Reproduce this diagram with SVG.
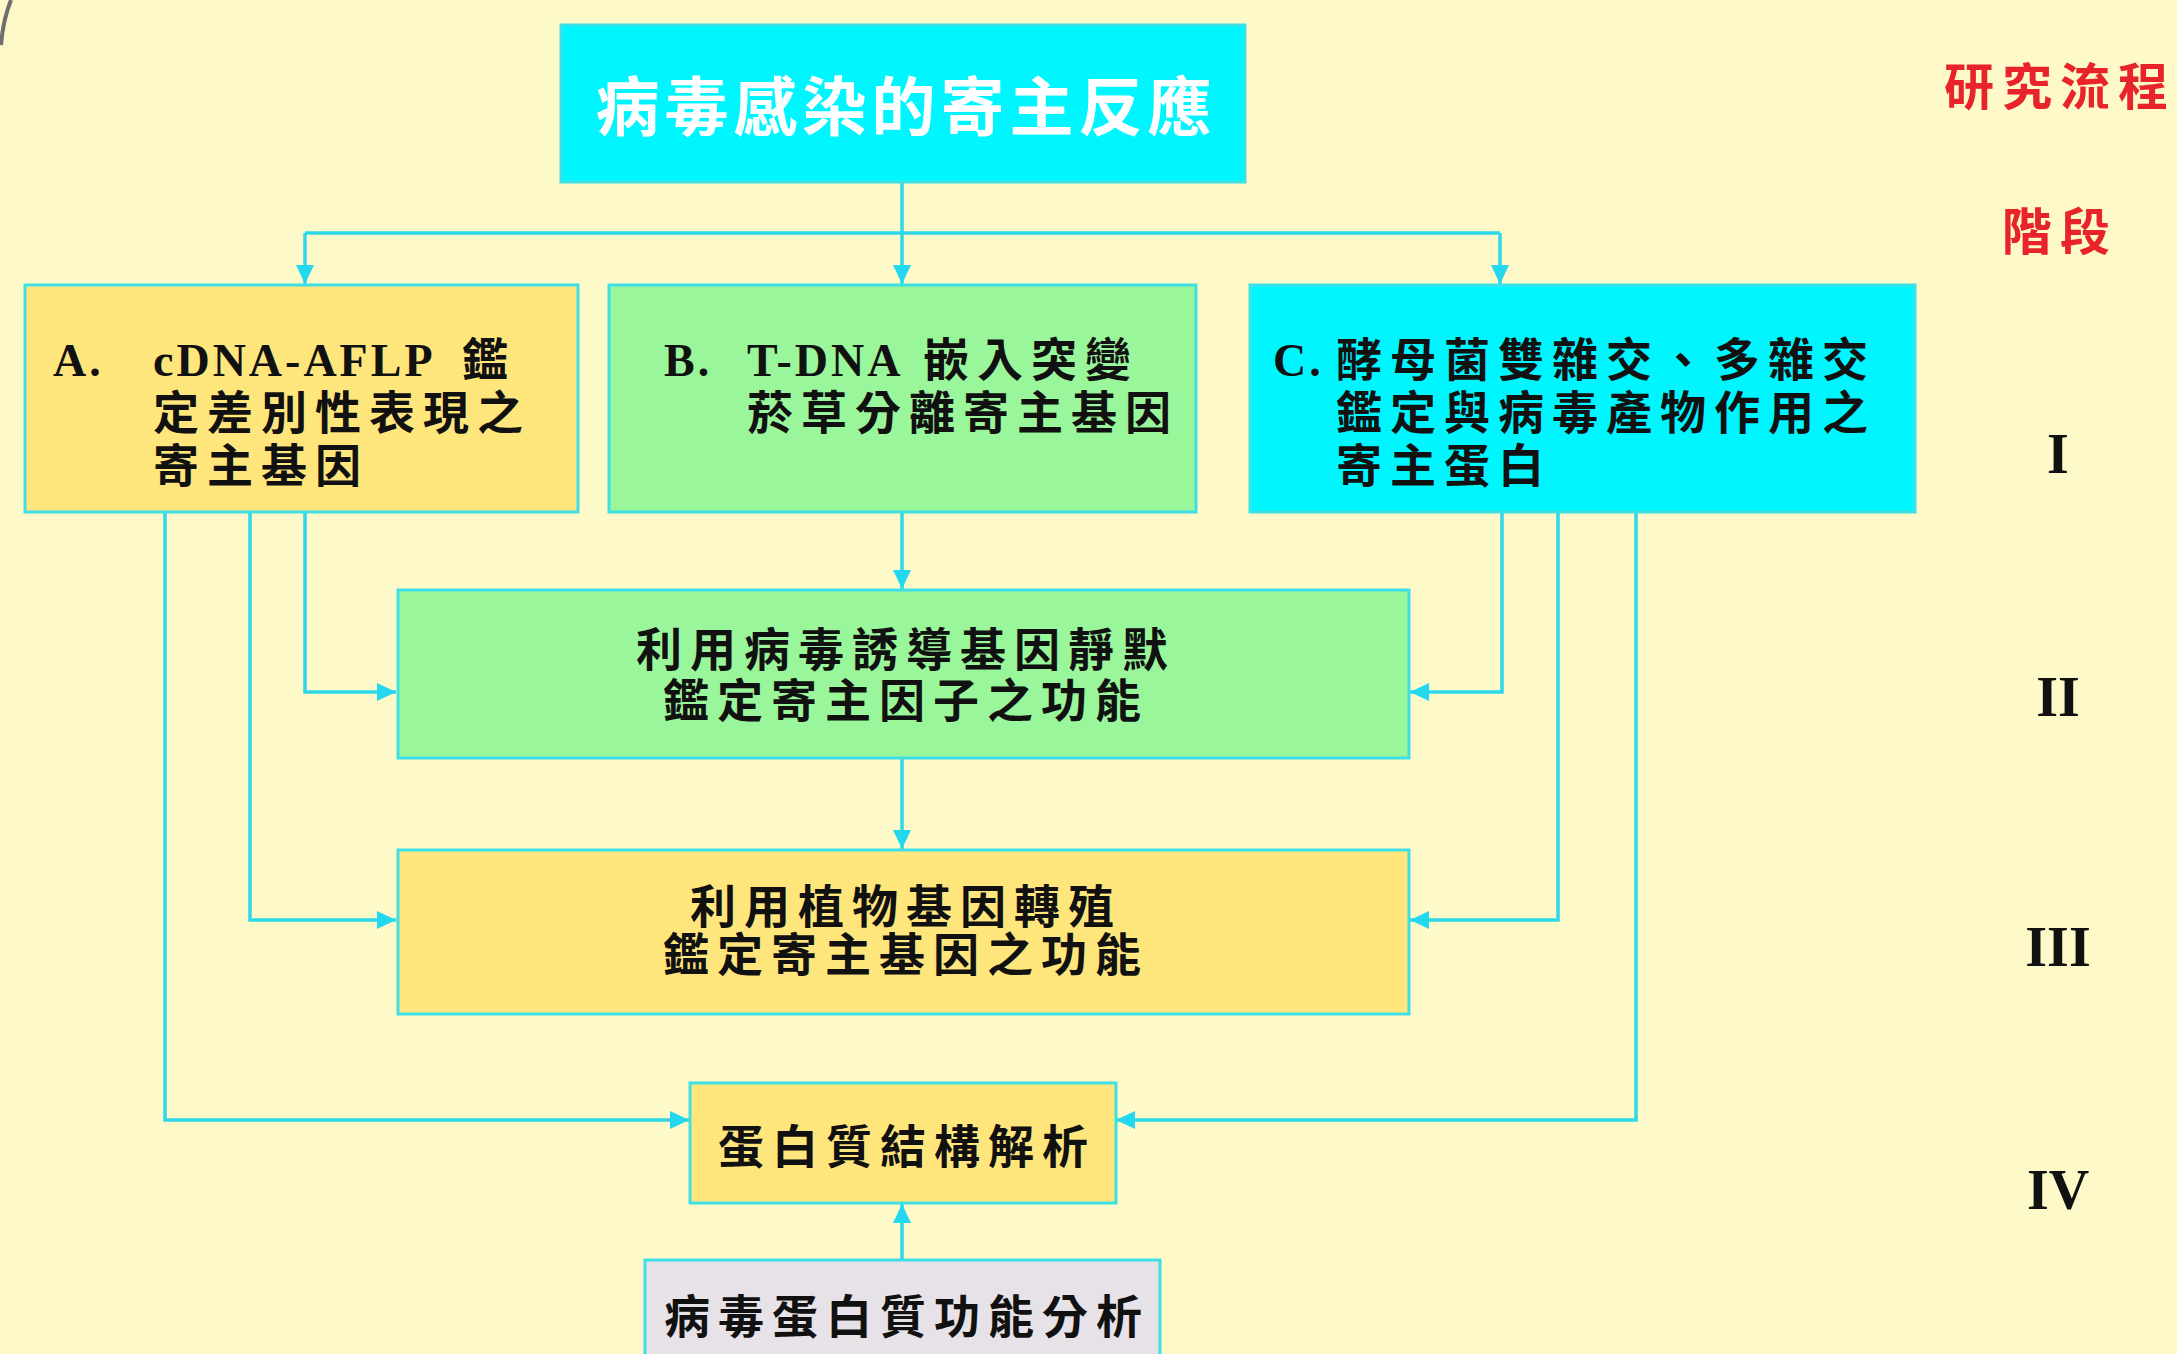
<svg xmlns="http://www.w3.org/2000/svg" width="2177" height="1354" viewBox="0 0 2177 1354">
<defs>
<marker id="arr" markerUnits="userSpaceOnUse" markerWidth="20" markerHeight="18" refX="19" refY="9" orient="auto">
<path d="M0,0 L19,9 L0,18 Z" fill="#22D8EE"/>
</marker>
<style>
.box{stroke:#3EE0E6;stroke-width:3}
.yel{fill:#FFE67C}
.grn{fill:#9AF69A}
.cyn{fill:#00F6FF}
.gry{fill:#E6E2E8}
.conn{fill:none;stroke:#2ED8EA;stroke-width:3.5}
.cjk{font-family:"Noto Sans CJK TC","Noto Sans CJK SC",sans-serif;font-weight:700;font-size:46px;letter-spacing:8px;fill:#111}
.lat{font-family:"Liberation Serif",serif;font-weight:700;font-size:46px;letter-spacing:3px}
.rom{font-family:"Liberation Serif",serif;font-weight:700;font-size:56px;fill:#111;text-anchor:middle}
.red{font-family:"Noto Sans CJK TC","Noto Sans CJK SC",sans-serif;font-weight:700;font-size:50px;letter-spacing:8px;fill:#E8242A}
</style>
</defs>
<rect x="0" y="0" width="2177" height="1354" fill="#FEF9C8"/>
<path d="M11,0 Q3,20 1,45" fill="none" stroke="#6F6F6F" stroke-width="4"/>

<g id="connectors">
<path class="conn" d="M902,182 V233"/>
<path class="conn" d="M305,233 H1500"/>
<path class="conn" d="M305,233 V284" marker-end="url(#arr)"/>
<path class="conn" d="M902,233 V284" marker-end="url(#arr)"/>
<path class="conn" d="M1500,233 V284" marker-end="url(#arr)"/>
<path class="conn" d="M305,512 V692 H396" marker-end="url(#arr)"/>
<path class="conn" d="M250,512 V920 H396" marker-end="url(#arr)"/>
<path class="conn" d="M165,512 V1120 H689" marker-end="url(#arr)"/>
<path class="conn" d="M1502,512 V692 H1410" marker-end="url(#arr)"/>
<path class="conn" d="M1558,512 V920 H1410" marker-end="url(#arr)"/>
<path class="conn" d="M1636,512 V1120 H1116" marker-end="url(#arr)"/>
<path class="conn" d="M902,512 V589" marker-end="url(#arr)"/>
<path class="conn" d="M902,758 V849" marker-end="url(#arr)"/>
<path class="conn" d="M902,1259 V1204" marker-end="url(#arr)"/>
</g>

<g id="top">
<rect class="box cyn" x="561" y="25" width="684" height="157"/>
<text x="906" y="130" text-anchor="middle" font-family="Noto Sans CJK TC, Noto Sans CJK SC, sans-serif" font-weight="700" font-size="64" letter-spacing="5" fill="#FFFFFF">病毒感染的寄主反應</text>
</g>

<g id="nodeA">
<rect class="box yel" x="25" y="285" width="553" height="227"/>
<text class="cjk"><tspan class="lat" x="53" y="376">A.</tspan><tspan class="lat" x="153" y="376">cDNA-AFLP</tspan><tspan x="462" y="376">鑑</tspan></text>
<text class="cjk" x="153" y="429">定差別性表現之</text>
<text class="cjk" x="153" y="482">寄主基因</text>
</g>

<g id="nodeB">
<rect class="box grn" x="609" y="285" width="587" height="227"/>
<text class="cjk"><tspan class="lat" x="664" y="376">B.</tspan><tspan class="lat" x="747" y="376">T-DNA</tspan><tspan x="923" y="376">嵌入突變</tspan></text>
<text class="cjk" x="747" y="429">菸草分離寄主基因</text>
</g>

<g id="nodeC">
<rect class="box cyn" x="1250" y="285" width="665" height="227"/>
<text class="cjk"><tspan class="lat" x="1273" y="376">C.</tspan><tspan x="1336" y="376">酵母菌雙雜交、多雜交</tspan></text>
<text class="cjk" x="1336" y="429">鑑定與病毒產物作用之</text>
<text class="cjk" x="1336" y="482">寄主蛋白</text>
</g>

<g id="nodeII">
<rect class="box grn" x="398" y="590" width="1011" height="168"/>
<text class="cjk" x="906" y="666" text-anchor="middle">利用病毒誘導基因靜默</text>
<text class="cjk" x="906" y="717" text-anchor="middle">鑑定寄主因子之功能</text>
</g>

<g id="nodeIII">
<rect class="box yel" x="398" y="850" width="1011" height="164"/>
<text class="cjk" x="906" y="923" text-anchor="middle">利用植物基因轉殖</text>
<text class="cjk" x="906" y="971" text-anchor="middle">鑑定寄主基因之功能</text>
</g>

<g id="nodeIV">
<rect class="box yel" x="690" y="1083" width="426" height="120"/>
<text class="cjk" x="907" y="1163" text-anchor="middle">蛋白質結構解析</text>
</g>

<g id="nodeV">
<rect class="box gry" x="645" y="1260" width="515" height="110"/>
<text class="cjk" x="907" y="1333" text-anchor="middle">病毒蛋白質功能分析</text>
</g>

<g id="stages">
<text class="red" x="1944" y="105">研究流程</text>
<text class="red" x="2002" y="250">階段</text>
<text class="rom" x="2058" y="473">I</text>
<text class="rom" x="2058" y="716">II</text>
<text class="rom" x="2058" y="966">III</text>
<text class="rom" x="2058" y="1209">IV</text>
</g>
</svg>
